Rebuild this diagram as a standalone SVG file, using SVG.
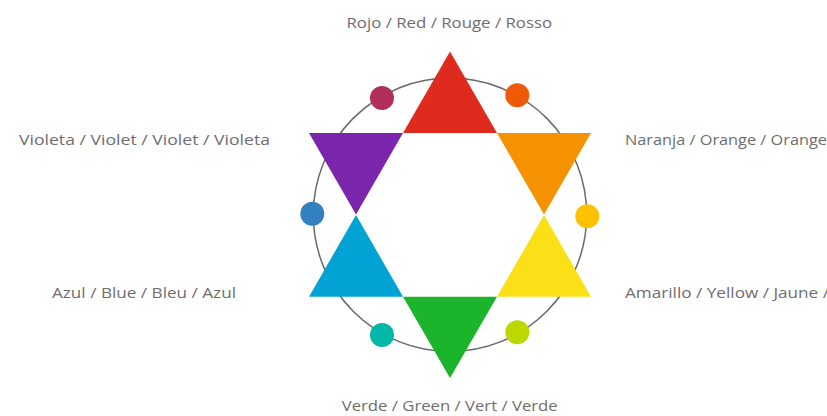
<svg xmlns="http://www.w3.org/2000/svg" width="827" height="416" viewBox="0 0 827 416">
<style>
.lbl{font-family:"Open Sans","Noto Sans","DejaVu Sans",sans-serif;font-size:15px;fill:#6e6e6e}
.dot{stroke:none}
</style>
<rect width="827" height="416" fill="#ffffff"/>
<g id="ring">
<circle cx="450" cy="214.8" r="136.7" fill="none" stroke="#6a6a6a" stroke-width="1.5"/>
</g>
<g id="connectors"></g>
<g id="red"><polygon points="450,51.5 497,133 403,133" fill="#DF2B1E"/></g>
<g id="orange"><polygon points="497,133 591,133 544,214.5" fill="#F59200"/></g>
<g id="yellow"><polygon points="544,215 591,296.7 497,296.7" fill="#FBE017"/></g>
<g id="green"><polygon points="403,296.7 497,296.7 450,378" fill="#1BB42A"/></g>
<g id="blue"><polygon points="356,215 403,296.7 309,296.7" fill="#00A3D4"/></g>
<g id="violet"><polygon points="309,133 403,133 356,214.5" fill="#7B25AD"/></g>
<g id="dot-redviolet"><circle class="dot" cx="382" cy="98" r="12" fill="#B0305A"/></g>
<g id="dot-redorange"><circle class="dot" cx="517.3" cy="95.3" r="12" fill="#EE5A07"/></g>
<g id="dot-yelloworange"><circle class="dot" cx="587.3" cy="216.3" r="12" fill="#FDC100"/></g>
<g id="dot-yellowgreen"><circle class="dot" cx="517.3" cy="332.3" r="12" fill="#BDD800"/></g>
<g id="dot-bluegreen"><circle class="dot" cx="382" cy="335" r="12" fill="#00B7A8"/></g>
<g id="dot-blueviolet"><circle class="dot" cx="312.3" cy="213.7" r="12" fill="#3380C0"/></g>
<g id="labels">
<text class="lbl" x="346.5" y="27.5" textLength="205.5" lengthAdjust="spacingAndGlyphs">Rojo / Red / Rouge / Rosso</text>
<text class="lbl" x="625" y="145" textLength="202" lengthAdjust="spacingAndGlyphs">Naranja / Orange / Orange</text>
<text class="lbl" x="625" y="297.5" textLength="204" lengthAdjust="spacingAndGlyphs">Amarillo / Yellow / Jaune /</text>
<text class="lbl" x="341.7" y="410.7" textLength="216" lengthAdjust="spacingAndGlyphs">Verde / Green / Vert / Verde</text>
<text class="lbl" x="52" y="297.5" textLength="184" lengthAdjust="spacingAndGlyphs">Azul / Blue / Bleu / Azul</text>
<text class="lbl" x="19" y="145" textLength="251" lengthAdjust="spacingAndGlyphs">Violeta / Violet / Violet / Violeta</text>
</g>
</svg>
